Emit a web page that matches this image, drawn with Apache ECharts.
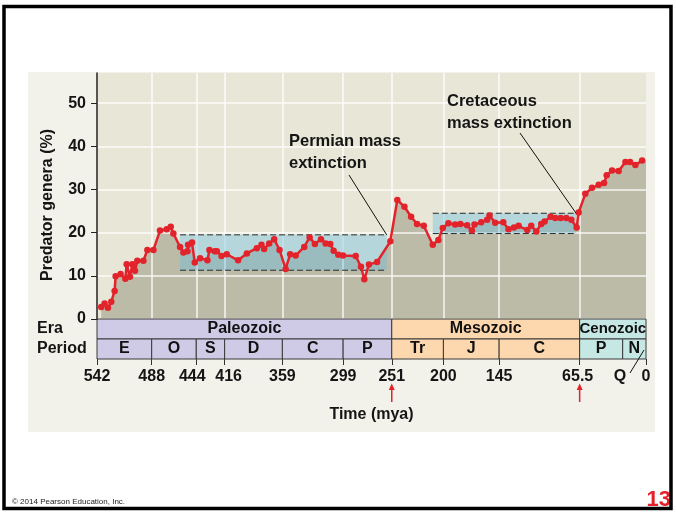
<!DOCTYPE html>
<html>
<head>
<meta charset="utf-8">
<script src="https://cdn.jsdelivr.net/npm/echarts@6/dist/echarts.min.js"></script>
<style>
html, body { margin: 0; padding: 0; background: #fff; }
#main { width: 676px; height: 512px; }
</style>
</head>
<body>
<div id="main"></div>
<script>
// predator genera (%) against time (mya)
var lineMya = [537.8, 534.5, 531.2, 527.9, 524.6, 523.6, 518.7, 514, 512.7, 509.5, 507.1, 504.5, 502.2, 496.2,
	492.3, 486.3, 479.8, 473.2, 469.2, 466.6, 460, 456.7, 452.7, 452.1, 448.2, 445.5, 440.3, 433, 431,
	425.7, 423.7, 419.1, 413.9, 402.7, 394.1, 384.2, 379.6, 377, 372, 367.1, 361.8, 355.8, 351.3, 345.9,
	337.4, 332.1, 326.9, 320.9, 316.3, 311.7, 308.4, 303.8, 299.2, 286.6, 281.4, 278.1, 273.5, 265.5,
	252.4, 245.5, 238.5, 231.9, 226, 219.4, 210.5, 205, 200.6, 195.1, 188.4, 183.2, 176.6, 171.9, 169.3,
	162.7, 156.8, 154.5, 148.9, 140.9, 135.7, 130.4, 125.8, 117.2, 113.3, 108.3, 103.4, 100.1, 94.2,
	89.6, 84.3, 78.7, 73.7, 68.5, 66.5, 59.9, 53.3, 46.7, 41.4, 38.8, 33.5, 27, 20.3, 15.7, 10.5, 3.8];
var lineVal = [2.8, 3.6, 2.6, 4.0, 6.5, 9.9, 10.4, 9.3, 12.7, 9.8, 12.7, 11.2, 13.5, 13.5,
	16, 16, 20.5, 20.8, 21.4, 19.8, 16.7, 15.4, 15.7, 17.2, 17.7, 13.1, 14.1, 13.6, 16,
	15.7, 15.7, 14.6, 15.0, 13.6, 15.2, 16.4, 17.2, 16.2, 17.5, 18.5, 16, 11.6, 15.0, 14.7,
	16.7, 18.9, 17.4, 18.5, 17.5, 17.4, 15.8, 14.9, 14.7, 14.6, 12.1, 9.2, 12.6, 13.2,
	18, 27.6, 26, 23.7, 22, 21.6, 17.2, 18.3, 21.1, 22.2, 21.9, 22, 21.7, 20.5, 21.9,
	22.4, 23, 24, 22.3, 22.4, 20.8, 21.2, 21.6, 20.6, 21.6, 20.3, 22, 22.6, 23.7,
	23.4, 23.4, 23.4, 23, 21.2, 24.7, 29, 30.4, 31.1, 31.5, 33.3, 34.4, 34.3, 36.4, 36.4, 35.7, 36.7];
// shaded area runs on to the present
var areaEndMya = 0;
var areaEndVal = 36.7;

// blue boxes (range of values in Paleozoic and Mesozoic)
var bandStart = [460, 210.5];
var bandEnd = [256, 69];
var bandLow = [11.3, 19.8];
var bandHigh = [19.5, 24.5];

var eraNames = ['Paleozoic', 'Mesozoic', 'Cenozoic'];
var eraStart = [542, 251, 65.5];
var eraEnd = [251, 65.5, 0];

var periodNames = ['E', 'O', 'S', 'D', 'C', 'P', 'Tr', 'J', 'C', 'P', 'N'];
var periodStart = [542, 488, 444, 416, 359, 299, 251, 200, 145, 65.5, 23];
var periodEnd = [488, 444, 416, 359, 299, 251, 200, 145, 65.5, 23, 0];
var periodEra = [0, 0, 0, 0, 0, 0, 1, 1, 1, 2, 2];

var timeTicks = [542, 488, 444, 416, 359, 299, 251, 200, 145, 65.5, 0];
var gridLinesX = [488, 444, 416, 359, 299, 251, 200, 145, 65.5];
var yTicks = [0, 10, 20, 30, 40, 50];
var extinctions = [251, 65.5];
var annotations = ['Permian mass\nextinction', 'Cretaceous\nmass extinction'];

var FONT = '"Liberation Sans", Arial, sans-serif';
var eraColors = ['#cfcbe6', '#fdd8ae', '#c5e8e4'];
var red = '#e3232b';

function boxItem(names, colorOf) {
	return function (params, api) {
		var p0 = api.coord([api.value(0), api.value(2)]);
		var p1 = api.coord([api.value(1), api.value(2)]);
		var h = api.size([0, 1])[1];
		var i = api.value(3);
		var w = p1[0] - p0[0];
		return {
			type: 'rect',
			shape: { x: p0[0], y: p0[1] - h / 2, width: w, height: h },
			style: { fill: colorOf(i), stroke: '#3a3a3a', lineWidth: 1 },
			textContent: {
				style: {
					text: names[i],
					font: 'bold ' + (w < 80 && names[i].length > 3 ? 15 : 16) + 'px ' + FONT,
					fill: '#111'
				}
			},
			textConfig: { position: 'inside' }
		};
	};
}

function bandItem(params, api) {
	var tl = api.coord([api.value(0), api.value(3)]);
	var br = api.coord([api.value(1), api.value(2)]);
	var dash = { stroke: '#2a2a2a', lineWidth: 1, lineDash: [6, 3] };
	return {
		type: 'group',
		children: [
			{ type: 'rect', shape: { x: tl[0], y: tl[1], width: br[0] - tl[0], height: br[1] - tl[1] },
				style: { fill: 'rgba(105,190,225,0.4)' } },
			{ type: 'line', shape: { x1: tl[0], y1: tl[1], x2: br[0], y2: tl[1] }, style: dash },
			{ type: 'line', shape: { x1: tl[0], y1: br[1], x2: br[0], y2: br[1] }, style: dash }
		]
	};
}

var lineData = lineMya.map(function (m, i) { return [m, lineVal[i]]; });
var areaData = lineData.concat([[areaEndMya, areaEndVal]]);

var labelStyle = { color: '#151515', fontWeight: 'bold', fontSize: 16, fontFamily: FONT };

// 444 and 416 sit close together, nudge them apart like the figure
function timeLabel(v) {
	if (v === 444) return '{l|444}';
	if (v === 416) return '{r|416}';
	if (v === 65.5) return '{l2|65.5}';
	return String(v);
}

var option = {
	animation: false,
	backgroundColor: '#fff',
	grid: [
		{ left: 97, right: 30, top: 73, height: 246, show: true, backgroundColor: '#e8e6d6', borderWidth: 0 },
		{ left: 97, right: 30, top: 319, height: 40 }
	],
	xAxis: [
		{
			type: 'value', gridIndex: 0, min: 0, max: 542, inverse: true, z: 2,
			axisLine: { show: false, onZero: false },
			axisTick: { show: false, customValues: gridLinesX },
			axisLabel: { show: false },
			splitLine: { show: true, lineStyle: { color: 'rgba(255,255,255,0.85)', width: 1.5 } }
		},
		{
			type: 'value', gridIndex: 1, min: 0, max: 542, inverse: true,
			axisLine: { show: false, onZero: false },
			axisTick: { show: true, customValues: timeTicks, length: 6, lineStyle: { color: '#333' } },
			axisLabel: Object.assign({
				customValues: timeTicks, margin: 10, formatter: timeLabel,
				rich: {
					l: Object.assign({ padding: [0, 8, 0, 0] }, labelStyle),
					r: Object.assign({ padding: [0, 0, 0, 8] }, labelStyle),
					l2: Object.assign({ padding: [0, 4, 0, 0] }, labelStyle)
				}
			}, labelStyle),
			splitLine: { show: false },
			name: 'Time (mya)', nameLocation: 'middle', nameGap: 48,
			nameTextStyle: labelStyle
		}
	],
	yAxis: [
		{
			type: 'value', gridIndex: 0, min: 0, max: 57, z: 2,
			axisLine: { show: true, onZero: false, lineStyle: { color: '#222', width: 1.5 } },
			axisTick: { show: true, customValues: yTicks, length: 6, lineStyle: { color: '#222' } },
			axisLabel: Object.assign({ customValues: yTicks, margin: 11 }, labelStyle),
			splitLine: { show: true, lineStyle: { color: 'rgba(255,255,255,0.85)', width: 1.5 } }
		},
		{
			type: 'category', gridIndex: 1, data: ['Period', 'Era'],
			axisLine: { show: false, onZero: false },
			axisTick: { show: false },
			axisLabel: Object.assign({ align: 'left', margin: 60, interval: 0 }, labelStyle)
		}
	],
	series: [
		{
			type: 'line', xAxisIndex: 0, yAxisIndex: 0, z: 1,
			data: areaData, showSymbol: false, symbol: 'none',
			lineStyle: { width: 0 },
			areaStyle: { color: '#bcbba7', opacity: 1 },
			silent: true
		},
		{
			type: 'custom', xAxisIndex: 0, yAxisIndex: 0, z: 3,
			renderItem: bandItem,
			encode: { x: [0, 1], y: [2, 3] },
			data: bandStart.map(function (s, i) { return [s, bandEnd[i], bandLow[i], bandHigh[i]]; }),
			silent: true
		},
		{
			type: 'line', xAxisIndex: 0, yAxisIndex: 0, z: 4,
			data: lineData,
			symbol: 'circle', symbolSize: 6.5,
			lineStyle: { color: red, width: 2.5 },
			itemStyle: { color: red }
		},
		{
			type: 'custom', xAxisIndex: 1, yAxisIndex: 1,
			renderItem: boxItem(eraNames, function (i) { return eraColors[i]; }),
			encode: { x: [0, 1], y: 2 },
			data: eraStart.map(function (s, i) { return [s, eraEnd[i], 1, i]; })
		},
		{
			type: 'custom', xAxisIndex: 1, yAxisIndex: 1,
			renderItem: boxItem(periodNames, function (i) { return eraColors[periodEra[i]]; }),
			encode: { x: [0, 1], y: 2 },
			data: periodStart.map(function (s, i) { return [s, periodEnd[i], 0, i]; })
		}
	]
};

var chart = echarts.init(document.getElementById('main'), null, { renderer: 'canvas' });
chart.setOption(option);

var graphics = [
	{ type: 'rect', z: -10, silent: true, shape: { x: 28, y: 72, width: 627, height: 360 },
		style: { fill: '#f2f1ea' } },
	{ type: 'rect', z: 100, silent: true, shape: { x: 4, y: 6.5, width: 667, height: 502 },
		style: { fill: null, stroke: '#000', lineWidth: 3.5 } },
	{ type: 'text', z: 10, x: 48, y: 205, rotation: Math.PI / 2,
		style: { text: 'Predator genera (%)', font: 'bold 16px ' + FONT, fill: '#151515',
			align: 'center', verticalAlign: 'middle' } },
	{ type: 'text', z: 10, x: 620, y: 377,
		style: { text: 'Q', font: 'bold 16px ' + FONT, fill: '#151515', align: 'center', verticalAlign: 'middle' } },
	{ type: 'line', z: 10, shape: { x1: 630, y1: 373, x2: 644, y2: 350 },
		style: { stroke: '#111', lineWidth: 1 } },
	{ type: 'text', z: 10, x: 12, y: 506,
		style: { text: '\u00a9 2014 Pearson Education, Inc.', font: '8px ' + FONT, fill: '#222',
			verticalAlign: 'bottom' } },
	{ type: 'text', z: 10, x: 671, y: 511,
		style: { text: '13', font: 'bold 22px ' + FONT, fill: '#e4202a', align: 'right', verticalAlign: 'bottom' } }
];

// annotation text + leader line to the corner of each blue box
var notePos = [[289, 130.5, 349, 175], [447, 90, 520, 133]];
annotations.forEach(function (t, i) {
	var end = chart.convertToPixel({ gridIndex: 0 }, [bandEnd[i], bandHigh[i]]);
	graphics.push({ type: 'text', z: 10, x: notePos[i][0], y: notePos[i][1],
		style: { text: t, font: 'bold 16.5px ' + FONT, fill: '#151515', lineHeight: 22 } });
	graphics.push({ type: 'line', z: 10, shape: { x1: notePos[i][2], y1: notePos[i][3], x2: end[0], y2: end[1] },
		style: { stroke: '#111', lineWidth: 1 } });
});

// red arrows under the extinction dates
extinctions.forEach(function (m) {
	var x = chart.convertToPixel({ xAxisIndex: 1 }, m);
	graphics.push({ type: 'line', z: 10, shape: { x1: x, y1: 402, x2: x, y2: 388 },
		style: { stroke: red, lineWidth: 1.5 } });
	graphics.push({ type: 'polygon', z: 10, shape: { points: [[x - 3, 390], [x + 3, 390], [x, 383.5]] },
		style: { fill: red } });
});

chart.setOption({ graphic: graphics });
</script>
</body>
</html>
